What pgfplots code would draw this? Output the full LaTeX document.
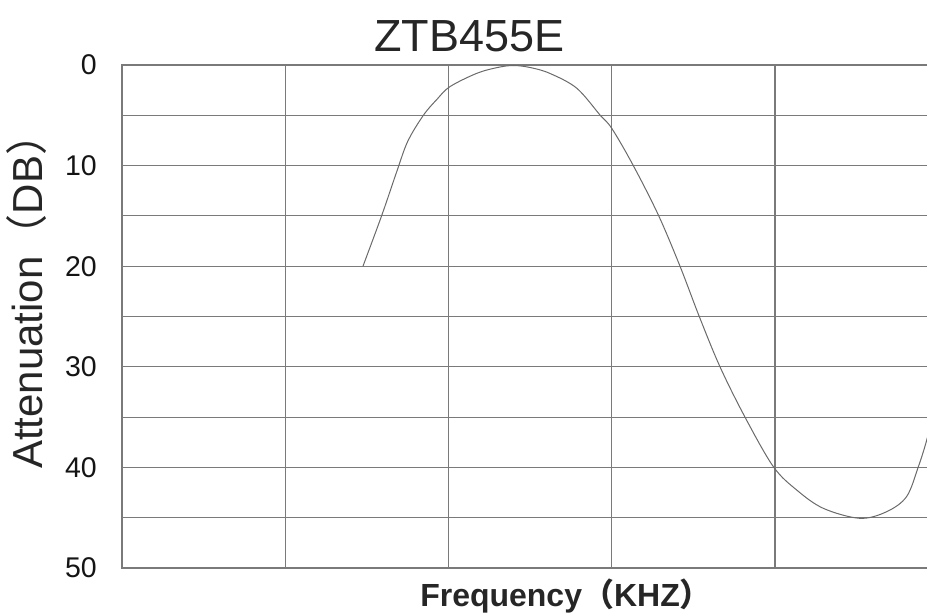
\documentclass[border=0pt]{standalone}
\usepackage{fontspec}
\setmainfont{Liberation Sans}
\newfontfamily\cjk{Noto Sans CJK SC}
\usepackage{pgfplots}
\pgfplotsset{compat=1.18}
\definecolor{gridc}{HTML}{7A7A7A}
\definecolor{curvec}{HTML}{6A6A6A}
\begin{document}
\begin{tikzpicture}
\begin{axis}[
  scale only axis,
  width=816.25pt, height=503pt,
  xmin=0, xmax=5, ymin=0, ymax=50,
  y dir=reverse,
  xtick={0,1,2,3,4,5}, xticklabels={},
  ytick={0,5,...,50},
  yticklabels={0,,10,,20,,30,,40,,50},
  major tick length=0pt,
  grid=major,
  grid style={gridc, line width=1.1pt},
  axis line style={gridc, line width=1.1pt},
  /pgf/number format/assume math mode=true,
  yticklabel style={font=\fontsize{28.5}{28.5}\selectfont, color=black!92, anchor=east, inner sep=0pt, xshift=-25pt},
  clip=false,
]
\addplot[curvec, line width=1pt, smooth, tension=0.55] coordinates {
(1.476,20) (1.59,15) (1.683,10.6) (1.75,7.6) (1.846,5) (1.93,3.4) (2.009,2.15)
(2.173,0.83) (2.30,0.25) (2.397,0.05) (2.50,0.25) (2.62,0.83) (2.785,2.3)
(2.928,4.97) (3.0,6.3) (3.13,9.94) (3.285,14.9) (3.418,20) (3.536,25)
(3.663,30) (3.816,35) (3.99,39.93) (4.133,42.25) (4.296,44.07) (4.52,45.06)
(4.684,44.4) (4.806,42.9) (4.878,39.93) (4.929,37.3) (4.97,34.5)
};
\node[anchor=base, inner sep=0pt, font=\fontsize{45}{45}\selectfont, color=black!85] at (axis cs:2.126,-1.3) {ZTB455E};
\node[anchor=base, inner sep=0pt, font=\fontsize{32}{32}\selectfont\bfseries, color=black!85] at (axis cs:2.72,53.87) {Frequency{\cjk（}KHZ{\cjk）}};
\node[anchor=base, inner sep=0pt, rotate=90, font=\fontsize{42}{42}\selectfont, color=black!85] at (axis cs:-0.484,22.5) {Attenuation{\cjk（}DB{\cjk）}};
\coordinate (bbsw) at (axis cs:-0.7473,54.57);
\coordinate (bbne) at (axis cs:4.931,-6.46);
\end{axis}
\pgfresetboundingbox
\path[use as bounding box] (bbsw) rectangle (bbne);
\end{tikzpicture}
\end{document}
